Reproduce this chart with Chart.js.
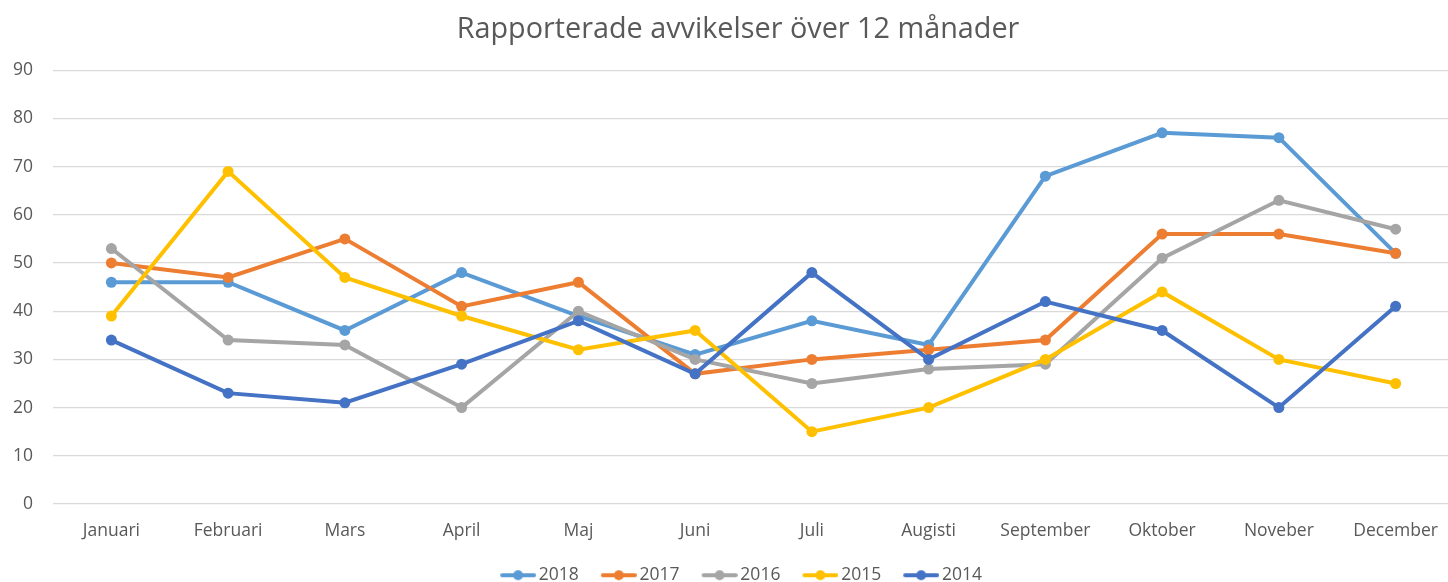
<!DOCTYPE html>
<html>
<head>
<meta charset="utf-8">
<script src="https://cdn.jsdelivr.net/npm/chart.js@4.4.1/dist/chart.umd.min.js"></script>
<style>
  html, body { margin:0; padding:0; background:#fff; overflow:hidden; }
  #chart { display:block; }
</style>
</head>
<body>
<canvas id="chart" width="1476" height="582"></canvas>
<script>
const manader = ["Januari","Februari","Mars","April","Maj","Juni","Juli","Augisti","September","Oktober","Noveber","December"];
const ar = ["2018","2017","2016","2015","2014"];
const farger = ["#5B9BD5","#ED7D31","#A5A5A5","#FFC000","#4472C4"];

const v2018 = [46,46,36,48,39,31,38,33,68,77,76,52];
const v2017 = [50,47,55,41,46,27,30,32,34,56,56,52];
const v2016 = [53,34,33,20,40,30,25,28,29,51,63,57];
const v2015 = [39,69,47,39,32,36,15,20,30,44,30,25];
const v2014 = [34,23,21,29,38,27,48,30,42,36,20,41];
const serier = [v2018, v2017, v2016, v2015, v2014];

const yTicks = [0,10,20,30,40,50,60,70,80,90];

const FONT = "'Open Sans'";
const TEXT = "#595959";

// legend marker: short line with a dot, drawn on the right side of a wider canvas
function markor(farg){
  const c = document.createElement("canvas");
  c.width = 48; c.height = 12;
  const g = c.getContext("2d");
  g.strokeStyle = farg; g.lineWidth = 4; g.lineCap = "round";
  g.beginPath(); g.moveTo(14,6); g.lineTo(46,6); g.stroke();
  g.fillStyle = farg;
  g.beginPath(); g.arc(30,6,5,0,Math.PI*2); g.fill();
  return c;
}

const datasets = serier.map((d,i)=>({
  label: ar[i],
  data: d,
  borderColor: farger[i],
  backgroundColor: farger[i],
  borderWidth: 4,
  pointRadius: 5.5,
  pointHoverRadius: 5.5,
  pointBorderWidth: 0,
  tension: 0,
  order: serier.length - i
}));

new Chart(document.getElementById("chart"), {
  type: "line",
  data: { labels: manader, datasets },
  options: {
    responsive: false,
    animation: false,
    devicePixelRatio: 1,
    layout: { padding: { left: 0, right: 0, top: 0, bottom: -12 } },
    plugins: {
      tooltip: { enabled: false },
      title: {
        display: true,
        text: "Rapporterade avvikelser över 12 månader",
        color: TEXT,
        font: { family: FONT, size: 28.8, weight: "normal" },
        padding: { top: 13, bottom: 22.6 }
      },
      legend: {
        position: "bottom",
        labels: {
          color: TEXT,
          font: { family: FONT, size: 17.5 },
          usePointStyle: true,
          pointStyleWidth: 36,
          padding: 16,
          generateLabels: chart => chart.data.datasets.map((ds,i)=>({
            text: ds.label,
            fontColor: TEXT,
            pointStyle: markor(ds.borderColor),
            fillStyle: ds.borderColor,
            strokeStyle: ds.borderColor,
            lineWidth: 0,
            datasetIndex: i
          }))
        }
      }
    },
    scales: {
      x: {
        offset: true,
        grid: { display: false },
        border: { display: false },
        ticks: { color: TEXT, font: { family: FONT, size: 17.5, lineHeight: 1 }, padding: 10.5, maxRotation: 0, autoSkip: false }
      },
      y: {
        min: 0,
        max: 90,
        afterBuildTicks: axis => { axis.ticks = yTicks.map(v=>({ value: v })); },
        afterFit: axis => { axis.width = 53; },
        grid: { color: "#D9D9D9", lineWidth: 1.3, drawTicks: false },
        border: { display: false },
        ticks: { color: TEXT, font: { family: FONT, size: 17.5 }, padding: 20 }
      },
      // empty right axis, only keeps space on the right of the plot
      hoger: {
        position: "right",
        min: 0,
        max: 90,
        afterFit: axis => { axis.width = 22; },
        grid: { display: false, drawTicks: false },
        border: { display: false },
        ticks: { display: false }
      }
    }
  }
});
</script>
</body>
</html>
